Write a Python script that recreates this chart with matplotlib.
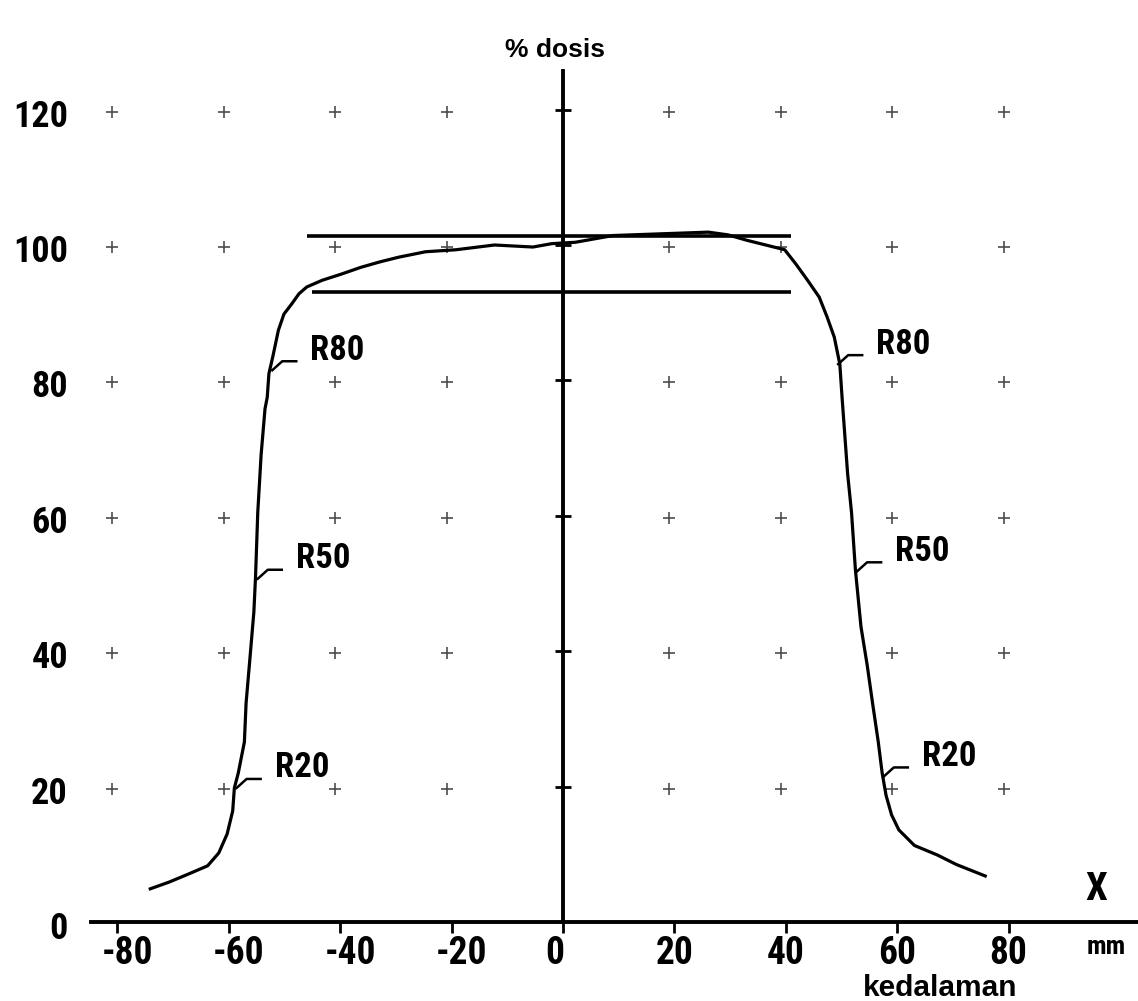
import matplotlib
matplotlib.use('Agg')
import matplotlib.pyplot as plt
from matplotlib import font_manager
from matplotlib.transforms import offset_copy

# depth positions (mm) and relative dose (%)
profile_x = [-74.1, -70.7, -67.2, -63.8, -61.8, -60.3, -59.3, -59.0, -58.3, -57.2,
             -56.9, -56.2, -55.5, -55.2, -54.8, -54.2, -53.5, -53.1, -52.8, -52.1,
             -51.1, -50.1, -48.7, -47.4, -46.0, -43.2, -39.8, -36.3, -32.9, -29.5,
             -24.7, -19.2, -12.3, -5.4, -2.0, 2.2, 9.0, 15.8, 26.1, 29.6,
             33.0, 36.4, 39.8, 41.8, 43.9, 46.0, 47.4, 48.7, 49.7, 50.1,
             51.1, 51.8, 52.5, 53.5, 54.6, 55.6, 56.6, 57.3, 58.0, 59.0,
             60.3, 63.1, 67.2, 70.6, 75.8]
profile_y = [4.9, 5.9, 7.1, 8.3, 10.2, 13.0, 16.4, 19.8, 22.0, 26.6,
             32.3, 39.0, 45.8, 51.0, 60.5, 69.0, 75.8, 77.5, 81.0, 83.5,
             87.4, 89.8, 91.3, 92.8, 93.8, 94.8, 95.7, 96.7, 97.5, 98.2,
             99.0, 99.3, 100.0, 99.7, 100.2, 100.4, 101.4, 101.6, 101.9, 101.5,
             100.7, 100.0, 99.3, 97.2, 94.8, 92.3, 89.4, 86.4, 82.4, 77.5,
             66.2, 60.5, 52.0, 43.6, 38.0, 32.2, 26.6, 22.0, 18.7, 15.8,
             13.6, 11.3, 9.9, 8.5, 6.8]

# flat region limits
band_levels = [101.3, 93.1]
band_start = [-46.0, -45.0]
band_end = [41.0, 41.0]

# R80 / R50 / R20 points on both edges
r_names = ['R80', 'R50', 'R20', 'R80', 'R50', 'R20']
r_x = [-52.2, -54.8, -58.6, 49.4, 52.8, 57.6]
r_y = [81.5, 50.7, 19.8, 82.4, 51.8, 21.5]

x_ticks = [-80, -60, -40, -20, 0, 20, 40, 60, 80]
x_labels = ['-80', '-60', '-40', '-20', '0', '20', '40', '60', '80']
y_ticks = [0, 20, 40, 60, 80, 100, 120]
y_labels = ['0', '20', '40', '60', '80', '100', '120']

# pixel layout of the scan
X0, PX_MM = 563, 5.57
Y0, PX_PCT = 922, 6.77
W, H = 1138, 1001

# pick a narrow face for the blocky printer digits if one is installed
installed = {(f.name, f.stretch) for f in font_manager.fontManager.ttflist}
names = {n for n, _ in installed}
narrow_name = None
for cand in ['Liberation Sans Narrow', 'DejaVu Sans Condensed', 'Roboto Condensed',
             'Open Sans Condensed', 'Noto Sans Condensed']:
    if cand in names:
        narrow_name = cand
        break
num_kw = dict(fontweight='bold')
if narrow_name:
    num_kw['family'] = [narrow_name, 'DejaVu Sans']
    num_size = 26
elif any(n == 'DejaVu Sans' and s == 'condensed' for n, s in installed):
    num_kw['family'] = ['DejaVu Sans']
    num_kw['fontstretch'] = 'condensed'
    num_size = 24
else:
    num_kw['family'] = ['DejaVu Sans']
    num_size = 20
sans = ['Liberation Sans', 'DejaVu Sans']

fig = plt.figure(figsize=(W / 100, H / 100), dpi=100)
fig.patch.set_facecolor('white')
ax = fig.add_axes([0, 0, 1, 1])
ax.set_xlim(-X0 / PX_MM, (W - X0) / PX_MM)
ax.set_ylim((Y0 - H) / PX_PCT, Y0 / PX_PCT)
ax.set_facecolor('white')

# axes through the origin
for s in ['top', 'right']:
    ax.spines[s].set_visible(False)
ax.spines['left'].set_position(('data', 0))
ax.spines['bottom'].set_position(('data', 0))
ax.spines['left'].set_bounds(0, 125.7)
ax.spines['bottom'].set_bounds(-84.7, 104)
for s in ['left', 'bottom']:
    ax.spines[s].set_linewidth(2.8)
ax.set_xticks(x_ticks)
ax.set_yticks(y_ticks[1:])
ax.tick_params(axis='x', direction='out', length=8, width=2, labelbottom=False)
ax.tick_params(axis='y', direction='inout', length=11, width=2, labelleft=False)

# faint grid crosses
cross_tr = offset_copy(ax.transData, fig=fig, x=-5, y=-2, units='dots')
for gy in y_ticks[1:]:
    for gx in x_ticks:
        if gx == 0:
            continue
        ax.plot(gx, gy, marker='+', ms=8, mew=1.2, color='0.3', transform=cross_tr)

# tick labels
for v, lab in zip(x_ticks, x_labels):
    dx = 10 if v < 0 else (-8 if v == 0 else 0)
    tr = offset_copy(ax.transData, fig=fig, x=dx, y=-32, units='dots')
    ax.text(v, 0, lab, transform=tr, ha='center', va='center',
            fontsize=num_size + 1, **num_kw)
for v, lab in zip(y_ticks, y_labels):
    tr = offset_copy(ax.transData, fig=fig, x=0, y=-7, units='dots')
    ax.text((68 - X0) / PX_MM, v, lab, transform=tr, ha='right', va='center',
            fontsize=num_size, **num_kw)

# flat-region lines and profile
for lev, a, b in zip(band_levels, band_start, band_end):
    ax.plot([a, b], [lev, lev], color='black', lw=2.6, solid_capstyle='butt')
ax.plot(profile_x, profile_y, color='black', lw=2.3)

# leaders and labels for R80 / R50 / R20
for name, rx, ry in zip(r_names, r_x, r_y):
    px, py = ax.transData.transform((rx, ry))
    pts = [(px, py), (px + 10, py + 9), (px + 24, py + 9)]
    dpts = ax.transData.inverted().transform(pts)
    ax.plot(dpts[:, 0], dpts[:, 1], color='black', lw=1.8)
    tx, ty = ax.transData.inverted().transform((px + 38, py + 20))
    ax.text(tx, ty, name, ha='left', va='center', fontsize=num_size - 1, **num_kw)

# axis titles
ax.text((555 - X0) / PX_MM, (Y0 - 50) / PX_PCT, '% dosis', ha='center',
        va='center', fontsize=19, fontweight='bold', family=sans)
ax.text((940 - X0) / PX_MM, (Y0 - 988) / PX_PCT, 'kedalaman', ha='center',
        va='center', fontsize=21.5, fontweight='bold', family=sans)
ax.text((1096 - X0) / PX_MM, (Y0 - 889) / PX_PCT, 'X', ha='center', va='center',
        fontsize=num_size + 2, **num_kw)
ax.text((1106 - X0) / PX_MM, (Y0 - 947) / PX_PCT, 'mm', ha='center', va='center',
        fontsize=19, **num_kw)

fig.savefig('out.png', dpi=100, facecolor='white')
